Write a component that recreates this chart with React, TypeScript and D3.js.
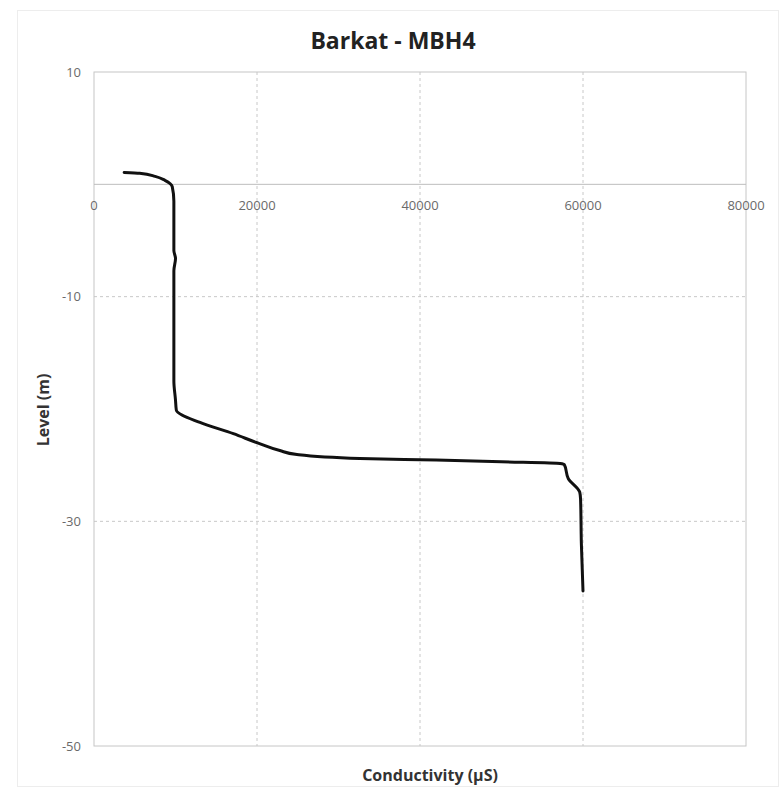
import React, { useEffect, useRef } from 'react';
import * as d3 from 'd3';

// Conductivity profile (µS) vs level (m)
const conductivity = [3700, 5600, 7500, 8700, 9600, 9800, 9800, 10000, 9800, 9800, 9800, 10000, 10100, 13000, 17100, 20000, 22800, 24900, 32600, 42000, 50000, 57200, 57700, 58200, 59600, 59700, 59800, 60000];
const level = [1.05, 0.98, 0.71, 0.36, -0.2, -1.5, -5.9, -6.6, -7.7, -12, -17.5, -19.2, -20.1, -21.2, -22.2, -23.0, -23.7, -24.05, -24.4, -24.55, -24.7, -24.85, -24.95, -26.2, -27.4, -28.0, -32, -36.2];

const xTicks = [0, 20000, 40000, 60000, 80000];
const yTicks = [10, -10, -30, -50];

const W = 779;
const H = 787;
const margin = { top: 72, right: 33, bottom: 41, left: 94 };

const App: React.FC = () => {
    const ref = useRef<SVGSVGElement>(null);

    useEffect(() => {
        const svg = d3.select(ref.current);
        svg.selectAll('*').remove();

        const x = d3.scaleLinear().domain([0, 80000]).range([margin.left, W - margin.right]);
        const y = d3.scaleLinear().domain([-50, 10]).range([H - margin.bottom, margin.top]);

        svg.append('rect')
            .attr('width', W).attr('height', H).attr('fill', '#fff');

        // faint outer chart frame
        svg.append('rect')
            .attr('x', 17.5).attr('y', 10.5)
            .attr('width', W - 18).attr('height', H - 11)
            .attr('fill', 'none').attr('stroke', '#ededed');

        const grid = svg.append('g');
        // vertical dashed grid
        grid.selectAll('line.vx')
            .data(xTicks.slice(1, -1))
            .enter().append('line')
            .attr('x1', d => x(d)).attr('x2', d => x(d))
            .attr('y1', y(10)).attr('y2', y(-50))
            .attr('stroke', '#c8c8c8').attr('stroke-dasharray', '3,3');
        // horizontal dashed grid
        grid.selectAll('line.hy')
            .data([-10, -30])
            .enter().append('line')
            .attr('x1', x(0)).attr('x2', x(80000))
            .attr('y1', d => y(d)).attr('y2', d => y(d))
            .attr('stroke', '#c8c8c8').attr('stroke-dasharray', '3,3');

        // plot frame
        svg.append('rect')
            .attr('x', x(0)).attr('y', y(10))
            .attr('width', x(80000) - x(0)).attr('height', y(-50) - y(10))
            .attr('fill', 'none').attr('stroke', '#c6c6c6');

        // x axis at level 0
        svg.append('line')
            .attr('x1', x(0)).attr('x2', x(80000))
            .attr('y1', y(0)).attr('y2', y(0))
            .attr('stroke', '#bdbdbd');

        const font = '"Open Sans", sans-serif';

        svg.selectAll('text.xt')
            .data(xTicks)
            .enter().append('text')
            .attr('x', d => x(d)).attr('y', y(0) + 26)
            .attr('text-anchor', 'middle')
            .attr('font-family', font).attr('font-size', 13)
            .attr('fill', '#6a6a6a')
            .text(d => String(d));

        svg.selectAll('text.yt')
            .data(yTicks)
            .enter().append('text')
            .attr('x', x(0) - 13).attr('y', d => y(d) + 4.5)
            .attr('text-anchor', 'end')
            .attr('font-family', font).attr('font-size', 13)
            .attr('fill', '#6a6a6a')
            .text(d => String(d));

        const line = d3.line<number>()
            .x((d, i) => x(conductivity[i]))
            .y(d => y(d))
            .curve(d3.curveMonotoneY);

        svg.append('path')
            .attr('d', line(level))
            .attr('fill', 'none')
            .attr('stroke', '#111')
            .attr('stroke-width', 3)
            .attr('stroke-linejoin', 'round')
            .attr('stroke-linecap', 'round');

        svg.append('text')
            .attr('x', 393).attr('y', 49)
            .attr('text-anchor', 'middle')
            .attr('font-family', font).attr('font-size', 23).attr('font-weight', 'bold')
            .attr('fill', '#222')
            .text('Barkat - MBH4');

        svg.append('text')
            .attr('x', 430).attr('y', 781)
            .attr('text-anchor', 'middle')
            .attr('font-family', font).attr('font-size', 16).attr('font-weight', 'bold')
            .attr('fill', '#333')
            .text('Conductivity (µS)');

        svg.append('text')
            .attr('transform', 'translate(49,410) rotate(-90)')
            .attr('text-anchor', 'middle')
            .attr('font-family', font).attr('font-size', 16).attr('font-weight', 'bold')
            .attr('fill', '#333')
            .text('Level (m)');
    }, []);

    return (
        <svg ref={ref} width={W} height={H} style={{ position: 'absolute', left: 0, top: 0 }} />
    );
};

export default App;
